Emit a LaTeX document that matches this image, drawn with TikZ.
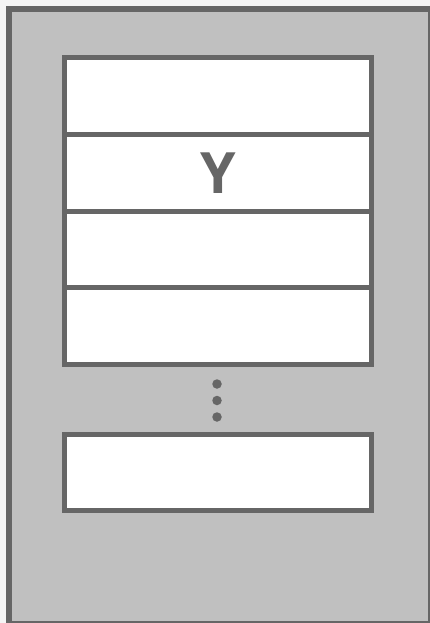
\documentclass[tikz,border=0pt]{standalone}
\usepackage{fontspec}
\setmainfont{Open Sans}
\definecolor{bgc}{HTML}{F5F5F5}
\definecolor{fillc}{HTML}{C0C0C0}
\definecolor{linec}{HTML}{666666}
\begin{document}
\begin{tikzpicture}[x=1pt,y=-1pt,outer sep=0pt,
  cell/.style={draw=linec,fill=white,line width=5pt,minimum width=307pt,minimum height=76.5pt,inner sep=0pt,anchor=north west,font=\fontsize{57}{60}\selectfont\bfseries,text=linec},
  dot/.style={circle,fill=linec,minimum size=9.5pt,inner sep=0pt}]
\useasboundingbox (0,0) rectangle (430,623);
\fill[bgc] (0,0) rectangle (430,623);
\begin{scope}
\clip (0,0) rectangle (430,623);
\node[draw=linec,fill=fillc,line width=6pt,minimum width=422pt,minimum height=615pt,inner sep=0pt,anchor=north west] (outer) at (9,9) {};
\end{scope}
\node[cell] (c1) at (64.5,58) {};
\node[cell] (c2) at (64.5,134.5) {Y};
\node[cell] (c3) at (64.5,211) {};
\node[cell] (c4) at (64.5,287.5) {};
\node[dot] (d1) at (217,384) {};
\node[dot] (d2) at (217,400.5) {};
\node[dot] (d3) at (217,417) {};
\node[cell] (c5) at (64.5,434) {};
\end{tikzpicture}
\end{document}
